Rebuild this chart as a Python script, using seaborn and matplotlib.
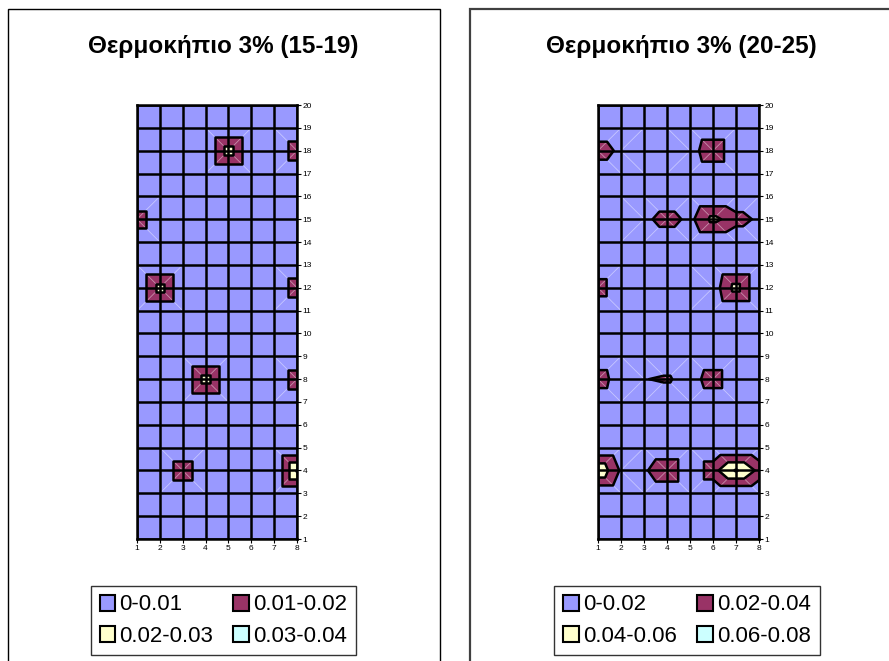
import numpy as np
import matplotlib
matplotlib.use("Agg")
import matplotlib.pyplot as plt
import matplotlib.tri as mtri
from matplotlib.patches import Patch, Rectangle
import seaborn as sns

# grid of the surface: columns 1..8, rows 1..20
x_cols = [1, 2, 3, 4, 5, 6, 7, 8]
y_rows = list(range(1, 21))

# left chart (15-19): non-zero points, everything else is 0
left_x = [5, 8, 1, 2, 8, 4, 8, 3, 8]
left_y = [18, 18, 15, 12, 12, 8, 8, 4, 4]
left_val = [0.0245, 0.017, 0.016, 0.0245, 0.017, 0.0245, 0.017, 0.017, 0.031]
left_levels = [0, 0.01, 0.02, 0.03, 0.04]
left_labels = ["0-0.01", "0.01-0.02", "0.02-0.03", "0.03-0.04"]

# right chart (20-25)
right_x = [1, 2, 5, 6, 3, 4, 5, 6, 7, 8, 1, 6, 7, 1, 2, 3, 4, 5, 6, 1, 2, 3, 4, 6, 7, 8]
right_y = [18, 18, 18, 18, 15, 15, 15, 15, 15, 15, 12, 12, 12, 8, 8, 8, 8, 8, 8, 4, 4, 4, 4, 4, 4, 4]
right_val = [0.033, 0.014, 0.008, 0.0385, 0.014, 0.030, 0.014, 0.046, 0.029, 0.016,
             0.032, 0.008, 0.048, 0.033, 0.006, 0.019, 0.0235, 0.008, 0.033,
             0.058, 0.017, 0.016, 0.039, 0.033, 0.062, 0.035]
right_levels = [0, 0.02, 0.04, 0.06, 0.08]
right_labels = ["0-0.02", "0.02-0.04", "0.04-0.06", "0.06-0.08"]

titles = ["Θερμοκήπιο 3% (15-19)", "Θερμοκήπιο 3% (20-25)"]
band_colors = ["#9999FF", "#993366", "#FFFFCC", "#CCFFFF"]

sns.set_theme(style="white")
plt.rcParams["font.family"] = ["Liberation Sans", "DejaVu Sans"]
plt.rcParams["text.color"] = "black"


def make_grid(px, py, pv):
    z = np.zeros((len(y_rows), len(x_cols)))
    for a, b, v in zip(px, py, pv):
        z[b - 1, a - 1] = v
    return z


def triangulate(z):
    # split each cell along the diagonal through its highest corner (like Excel)
    nx = len(x_cols)
    X, Y = np.meshgrid(x_cols, y_rows)
    flat = z.ravel()
    tris, diags = [], []
    for j in range(len(y_rows) - 1):
        for i in range(nx - 1):
            a = j * nx + i
            b = a + 1
            d = a + nx
            c = d + 1
            if max(flat[a], flat[c]) >= max(flat[b], flat[d]):
                tris += [[a, b, c], [a, c, d]]
                dg = (a, c)
            else:
                tris += [[a, b, d], [b, c, d]]
                dg = (b, d)
            if max(flat[[a, b, c, d]]) > 0:
                diags.append(dg)
    tri = mtri.Triangulation(X.ravel(), Y.ravel(), np.array(tris))
    return tri, flat, diags, X.ravel(), Y.ravel()


def draw_panel(ax, px, py, pv, levels):
    z = make_grid(px, py, pv)
    tri, flat, diags, xs, ys = triangulate(z)
    ax.tricontourf(tri, flat, levels=levels, colors=band_colors, extend="neither", zorder=1)
    for a, b in diags:
        ax.plot([xs[a], xs[b]], [ys[a], ys[b]], color="white", alpha=0.45, lw=0.6, zorder=1.5)
    ax.tricontour(tri, flat, levels=levels[1:], colors="black", linewidths=1.8, zorder=2)
    ax.set_xlim(1, 8)
    ax.set_ylim(1, 20)
    ax.set_xticks(x_cols)
    ax.set_yticks(y_rows)
    for v in x_cols:
        ax.axvline(v, color="black", lw=1.8, zorder=3)
    for v in y_rows:
        ax.axhline(v, color="black", lw=1.8, zorder=3)
    ax.yaxis.tick_right()
    ax.tick_params(axis="both", labelsize=6, length=3, width=0.8, direction="out",
                   colors="black", pad=1)
    ax.tick_params(axis="y", right=True, left=False)
    ax.tick_params(axis="x", bottom=True)
    for s in ax.spines.values():
        s.set_color("black")
        s.set_linewidth(1.8)


fig = plt.figure(figsize=(8.89, 6.61), dpi=100)

# panel frames
fig.add_artist(Rectangle((8 / 889, -0.05), (440 - 8) / 889, 1.05 - 9 / 661,
                         transform=fig.transFigure, fill=False, edgecolor="black", lw=1))
fig.add_artist(Rectangle((470 / 889, -0.05), 0.5, 1.05 - 9 / 661,
                         transform=fig.transFigure, fill=False, edgecolor="#404040", lw=1.6))

ax1 = fig.add_axes([137 / 889, 1 - 539 / 661, 160 / 889, 434 / 661])
ax2 = fig.add_axes([598 / 889, 1 - 539 / 661, 161 / 889, 434 / 661])
draw_panel(ax1, left_x, left_y, left_val, left_levels)
draw_panel(ax2, right_x, right_y, right_val, right_levels)

for cx, title in zip([223 / 889, 681 / 889], titles):
    fig.text(cx, 1 - 46 / 661, title, ha="center", va="center", fontsize=17.5,
             fontweight="bold", color="black")

for cx, labels in zip([223.5 / 889, 687 / 889], [left_labels, right_labels]):
    handles = [Patch(facecolor=c, edgecolor="black", lw=1.5, label=l)
               for c, l in zip(band_colors, labels)]
    order = [0, 2, 1, 3]
    leg = fig.legend([handles[k] for k in order], [labels[k] for k in order],
                     ncol=2, loc="center", bbox_to_anchor=(cx, 1 - 620.5 / 661),
                     fontsize=16, frameon=True, fancybox=False, handlelength=0.7,
                     handleheight=0.7, handletextpad=0.2, columnspacing=0.9,
                     labelspacing=0.45, borderpad=0.4, borderaxespad=0)
    leg.get_frame().set_edgecolor("black")
    leg.get_frame().set_linewidth(1)
    for t in leg.get_texts():
        t.set_color("black")

fig.savefig("out.png", dpi=100)
